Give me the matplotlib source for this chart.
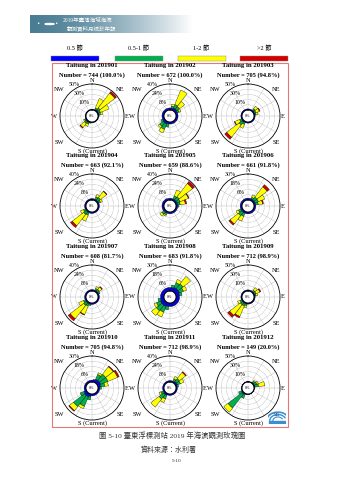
import numpy as np
import matplotlib
matplotlib.use('Agg')
import matplotlib.pyplot as plt
from matplotlib.patches import Rectangle, Circle, Arc

W, H = 339, 480

# legend classes (current speed, knots)
speed_labels = ['0.5 節', '0.5-1 節', '1-2 節', '>2 節']
speed_colors = ['#0000ff', '#00b04f', '#ffff00', '#d40000']

# 24 direction sectors, compass degrees (clockwise from N)
dirs = np.arange(0, 360, 15)

months = ['201901', '201902', '201903', '201904', '201905', '201906',
          '201907', '201908', '201909', '201910', '201911', '201912']
counts = [744, 672, 705, 663, 659, 661, 608, 683, 712, 705, 712, 149]
pct = [100.0, 100.0, 94.8, 92.1, 88.6, 91.8, 81.7, 91.8, 98.9, 94.8, 98.9, 20.0]
rmax = [50, 40, 50, 40, 40, 30, 40, 30, 50, 30, 40, 50]

# percent of records per sector, one row per month
#        0  15  30  45  60  75  90 105 120 135 150 165 180 195 210 225 240 255 270 285 300 315 330 345
blue = [
    [1, 1, 2, 3, 2, 2, 1, 1, 1, 1, 1, 1, 1, 1.5, 2, 2.5, 2, 1.5, 1, 1, 1, 1, 1, 1],
    [3, 3, 4, 4, 3, 3, 3, 3, 3, 3, 3, 3, 3, 3, 4, 4, 3, 3, 3, 3, 3, 3, 3, 3],
    [2, 2, 2, 3, 2, 2, 2, 2, 2, 2, 2, 2, 2, 2, 2, 3, 2, 2, 2, 2, 2, 2, 2, 2],
    [2, 2, 2, 2, 2, 2, 2, 2, 2, 2, 2, 2, 2, 2, 2, 2, 2, 2, 2, 2, 2, 2, 2, 2],
    [2.5, 2.5, 2.5, 2.5, 2.5, 2.5, 2.5, 2.5, 2.5, 2.5, 2.5, 2.5, 2.5, 2.5, 2.5, 2.5, 3, 3, 3, 3, 3, 3, 3, 2.5],
    [2, 2, 2, 2, 2, 2, 2, 2, 2, 2, 2, 2, 2, 2, 2, 2, 2, 2, 2, 2, 2, 2, 2, 2],
    [2, 2, 2, 2, 2, 2, 2, 2, 2, 2, 2, 2, 2, 2, 2, 2, 2, 2, 2, 2, 2, 2, 2, 2],
    [4, 4, 5, 5, 5, 4, 4, 4, 4, 4, 4, 4, 4, 4, 5, 5, 5, 4, 4, 4, 4, 4, 4, 4],
    [2, 2, 2, 2, 2, 2, 2, 2, 2, 2, 2, 2, 2, 2, 2, 2, 2, 2, 2, 2, 2, 2, 2, 2],
    [2, 3, 4, 4, 4, 3, 2, 2, 2, 2, 2, 2, 2, 3, 4, 4, 3, 2, 2, 2, 2, 2, 2, 2],
    [2, 2, 2, 3, 3, 2, 2, 2, 2, 2, 2, 2, 2, 2, 3, 3, 2, 2, 2, 2, 2, 2, 2, 2],
    [0.5, 0.5, 1, 2, 2, 2, 1, 0.5, 0.5, 0.5, 0.5, 0.5, 0.5, 1, 2, 3, 2, 1, 0.5, 0.5, 0.5, 0.5, 0.5, 0.5],
]
green = [
    [0, 0, 3, 5, 4, 3, 1, 0, 0, 0, 0, 0, 0, 1, 3, 4, 2, 0, 0, 0, 0, 0, 0, 0],
    [0, 3, 6, 5, 3, 0, 0, 0, 0, 0, 0, 0, 0, 5, 9, 7, 3, 0, 0, 0, 0, 0, 0, 0],
    [0, 0, 0, 3, 3, 2, 0, 0, 0, 0, 0, 0, 0, 0, 4, 7, 4, 0, 0, 0, 0, 0, 0, 0],
    [0, 0, 4, 5, 3, 0, 0, 0, 0, 0, 0, 0, 0, 0, 4, 5, 3, 0, 0, 0, 0, 0, 0, 0],
    [0, 0, 5, 6, 5, 4, 2, 0, 0, 0, 0, 0, 0, 0, 3, 4, 0, 0, 0, 0, 0, 0, 0, 0],
    [0, 0, 2, 4, 4, 3, 0, 0, 0, 0, 0, 0, 0, 0, 4, 5, 3, 0, 0, 0, 0, 0, 0, 0],
    [0, 0, 3, 3, 2, 0, 0, 0, 0, 0, 0, 0, 0, 2, 4, 5, 3, 0, 0, 0, 0, 0, 0, 0],
    [0, 3, 6, 7, 5, 3, 0, 0, 0, 0, 0, 0, 0, 4, 7, 8, 5, 3, 0, 0, 0, 0, 0, 0],
    [0, 0, 0, 3, 3, 2, 0, 0, 0, 0, 0, 0, 0, 3, 5, 5, 3, 0, 0, 0, 0, 0, 0, 0],
    [0, 0, 6, 9, 9, 5, 2, 0, 0, 0, 0, 0, 0, 4, 12, 16, 5, 0, 0, 0, 0, 0, 0, 0],
    [0, 0, 4, 6, 5, 2, 0, 0, 0, 0, 0, 0, 0, 0, 6, 9, 4, 0, 0, 0, 0, 0, 0, 0],
    [0, 0, 0, 3, 5, 7, 0, 0, 0, 0, 0, 0, 0, 0, 8, 34, 6, 0, 0, 0, 0, 0, 0, 0],
]
yellow = [
    [0, 0, 20, 36, 18, 4, 0, 0, 0, 0, 0, 0, 0, 0, 5, 10, 2, 0, 0, 0, 0, 0, 0, 0],
    [0, 3, 24, 10, 3, 0, 0, 0, 0, 0, 0, 0, 0, 0, 6, 3, 0, 0, 0, 0, 0, 0, 0, 0],
    [0, 0, 0, 6, 7, 4, 0, 0, 0, 0, 0, 0, 0, 0, 8, 30, 10, 0, 0, 0, 0, 0, 0, 0],
    [0, 0, 4, 12, 3, 0, 0, 0, 0, 0, 0, 0, 0, 0, 10, 22, 5, 0, 0, 0, 0, 0, 0, 0],
    [0, 0, 10, 26, 14, 8, 0, 0, 0, 0, 0, 0, 0, 0, 2, 4, 0, 0, 0, 0, 0, 0, 0, 0],
    [0, 0, 3, 15, 8, 5, 0, 0, 0, 0, 0, 0, 0, 0, 6, 12, 3, 0, 0, 0, 0, 0, 0, 0],
    [0, 0, 3, 5, 0, 0, 0, 0, 0, 0, 0, 0, 0, 0, 14, 26, 8, 0, 0, 0, 0, 0, 0, 0],
    [0, 0, 4, 11, 4, 0, 0, 0, 0, 0, 0, 0, 0, 0, 6, 7, 3, 0, 0, 0, 0, 0, 0, 0],
    [0, 0, 0, 6, 8, 3, 0, 0, 0, 0, 0, 0, 0, 4, 22, 26, 5, 0, 0, 0, 0, 0, 0, 0],
    [0, 0, 2, 11, 12, 4, 0, 0, 0, 0, 0, 0, 0, 0, 3, 6, 0, 0, 0, 0, 0, 0, 0, 0],
    [0, 0, 4, 12, 6, 0, 0, 0, 0, 0, 0, 0, 0, 0, 6, 16, 3, 0, 0, 0, 0, 0, 0, 0],
    [0, 0, 0, 2, 3, 12, 0, 0, 0, 0, 0, 0, 0, 0, 0, 10, 0, 0, 0, 0, 0, 0, 0, 0],
]
red = [
    [0, 0, 0, 4, 0, 0, 0, 0, 0, 0, 0, 0, 0, 0, 0, 1.5, 0, 0, 0, 0, 0, 0, 0, 0],
    [0, 0, 0, 0, 0, 0, 0, 0, 0, 0, 0, 0, 0, 0, 0, 0, 0, 0, 0, 0, 0, 0, 0, 0],
    [0, 0, 0, 0, 1.5, 0, 0, 0, 0, 0, 0, 0, 0, 0, 0, 5, 1, 0, 0, 0, 0, 0, 0, 0],
    [0, 0, 0, 1, 0, 0, 0, 0, 0, 0, 0, 0, 0, 0, 0, 3.5, 0, 0, 0, 0, 0, 0, 0, 0],
    [0, 0, 0, 4, 1, 2, 0, 0, 0, 0, 0, 0, 0, 0, 0, 0, 0, 0, 0, 0, 0, 0, 0, 0],
    [0, 0, 0, 3, 0, 1, 0, 0, 0, 0, 0, 0, 0, 0, 0, 2, 0, 0, 0, 0, 0, 0, 0, 0],
    [0, 0, 0, 1, 0, 0, 0, 0, 0, 0, 0, 0, 0, 0, 1, 4, 0, 0, 0, 0, 0, 0, 0, 0],
    [0, 0, 0, 0, 0, 0, 0, 0, 0, 0, 0, 0, 0, 0, 0, 0, 0, 0, 0, 0, 0, 0, 0, 0],
    [0, 0, 0, 0, 2, 0, 0, 0, 0, 0, 0, 0, 0, 0, 3, 5, 0, 0, 0, 0, 0, 0, 0, 0],
    [0, 0, 0, 1, 2, 0, 0, 0, 0, 0, 0, 0, 0, 0, 0, 1, 0, 0, 0, 0, 0, 0, 0, 0],
    [0, 0, 0, 1.5, 0, 0, 0, 0, 0, 0, 0, 0, 0, 0, 0, 0, 0, 0, 0, 0, 0, 0, 0, 0],
    [0, 0, 0, 0, 0, 0, 0, 0, 0, 0, 0, 0, 0, 0, 0, 0, 0, 0, 0, 0, 0, 0, 0, 0],
]

serif = ['Liberation Serif', 'DejaVu Serif']
cjk = ['Liberation Serif', 'Noto Sans CJK TC', 'DejaVu Sans']

fig = plt.figure(figsize=(W / 100, H / 100), dpi=100)


def fx(x):
    return x / W


def fy(y):
    return 1 - y / H


# header banner with gradient
bax = fig.add_axes([fx(30), fy(33), 163 / W, 18 / H])
grad = np.linspace(0, 1, 256)
c0 = np.array([0.29, 0.49, 0.58])
c1 = np.array([1.0, 1.0, 1.0])
img = c0[None, :] * (1 - grad[:, None] ** 1.5) + c1[None, :] * grad[:, None] ** 1.5
bax.imshow(img[None, :, :], aspect='auto', extent=[0, 1, 0, 1])
bax.set_axis_off()
bax.add_patch(Circle((0.12, 0.5), 0.028, transform=bax.transAxes, color='white'))
fig.text(fx(38), fy(24), '•', color='white', fontsize=4, ha='center', va='center')
fig.text(fx(56), fy(24), '•', color='white', fontsize=4, ha='center', va='center')
fig.text(fx(63), fy(20.5), '2019年臺灣海域海流', color='white', fontsize=4,
         family=cjk, ha='left', va='center')
fig.text(fx(67), fy(28), '觀測資料月統計年報', color='white', fontsize=4,
         family=cjk, ha='left', va='center')

# speed legend
leg_x = [75, 138.5, 201.5, 264]
for lab, c, x in zip(speed_labels, speed_colors, leg_x):
    fig.text(fx(x), fy(48), lab, fontsize=4.5, family=cjk, ha='center', va='center')
    fig.patches.append(Rectangle((fx(x - 24), fy(61)), 48 / W, 5 / H,
                                 transform=fig.transFigure, facecolor=c,
                                 edgecolor='#888888', linewidth=0.3))

# red frame around the roses
fig.patches.append(Rectangle((fx(51.5), fy(427)), (288 - 51.5) / W, (427 - 63) / H,
                             transform=fig.transFigure, fill=False,
                             edgecolor='#e07a7a', linewidth=0.8))

col_x = [92, 170, 248]
row_y = [116, 206, 297, 388]
R = 32
hole = 0.19

dir_text = [('N', 0.0, -1.1), ('NE', 0.88, -0.83), ('E', 1.1, 0.0), ('SE', 0.88, 0.83),
            ('S (Current)', 0.0, 1.1), ('SW', -1.03, 0.83), ('W', -1.2, 0.0), ('NW', -1.03, -0.83)]

for i, mon in enumerate(months):
    cx = col_x[i % 3]
    cy = row_y[i // 3]
    m = rmax[i]
    ax = fig.add_axes([fx(cx - R), fy(cy + R), 2 * R / W, 2 * R / H], projection='polar')
    ax.set_theta_zero_location('N')
    ax.set_theta_direction(-1)
    ax.set_rorigin(-hole / (1 - hole) * m)
    ax.set_ylim(0, m)
    ax.set_axisbelow(True)

    theta = np.deg2rad(dirs)
    bottom = np.zeros(len(dirs))
    for vals, c in zip([blue[i], green[i], yellow[i], red[i]], speed_colors):
        v = np.array(vals, dtype=float)
        k = v > 0
        ax.bar(theta[k], v[k], width=np.deg2rad(15), bottom=bottom[k], color=c,
               edgecolor='black', linewidth=0.25, zorder=3)
        bottom += v

    ax.set_yticks(np.arange(1, 5) * m / 5)
    ax.set_yticklabels([])
    ax.set_xticks(np.deg2rad(np.arange(0, 360, 30)))
    ax.set_xticklabels([])
    ax.grid(True, color='0.45', linestyle=(0, (1, 1.5)), linewidth=0.35)
    ax.spines['polar'].set_linewidth(0.6)
    ax.spines['inner'].set_visible(False)
    ring = np.linspace(0, 2 * np.pi, 120)
    ax.plot(ring, np.zeros_like(ring), color='black', linewidth=0.6, zorder=4)
    ax.text(0.5, 0.5, '0%', transform=ax.transAxes, ha='center', va='center',
            fontsize=3, family=serif, zorder=5)

    for k in (1, 3, 5):
        lev = m * k / 5
        ax.text(np.deg2rad(330), lev + 0.16 * m, '%d%%' % lev, ha='center', va='center',
                fontsize=4.2, family=serif, zorder=6)

    for lab, dx, dy in dir_text:
        ax.text(0.5 + 0.5 * dx, 0.5 - 0.5 * dy, lab, transform=ax.transAxes,
                ha='center', va='center', fontsize=4.6, family=serif)

    fig.text(fx(cx), fy(cy - 50), 'Taitung in ' + mon, fontsize=4.9, family=serif,
             fontweight='bold', ha='center', va='center')
    fig.text(fx(cx), fy(cy - 41), 'Number = %d (%.1f%%)' % (counts[i], pct[i]),
             fontsize=4.6, family=serif, fontweight='bold', ha='center', va='center')

# small agency logo at the lower right of the frame
lax = fig.add_axes([fx(268), fy(424), 18 / W, 16 / H])
lax.set_xlim(0, 1)
lax.set_ylim(0, 1)
lax.set_axis_off()
for r_, lw in [(0.9, 1.2), (0.65, 1.0), (0.4, 0.8)]:
    lax.add_patch(Arc((0.55, 0.2), r_ * 1.4, r_ * 1.2, theta1=20, theta2=200,
                      color='#3a8fd0', linewidth=lw))
lax.add_patch(Rectangle((0.05, 0.05), 0.9, 0.12, color='#3a8fd0'))

# captions
fig.text(fx(172), fy(435), '圖 5-10 臺東浮標測站 2019 年海流觀測玫瑰圖', fontsize=5.3,
         family=cjk, color='#333333', ha='center', va='center')
fig.text(fx(169), fy(449), '資料來源：水利署', fontsize=5.0, family=cjk,
         color='#333333', ha='center', va='center')
fig.text(fx(177), fy(461), '5-10', fontsize=3.8, family=serif, color='#333333',
         ha='center', va='center')

fig.savefig('out.png', dpi=100)
